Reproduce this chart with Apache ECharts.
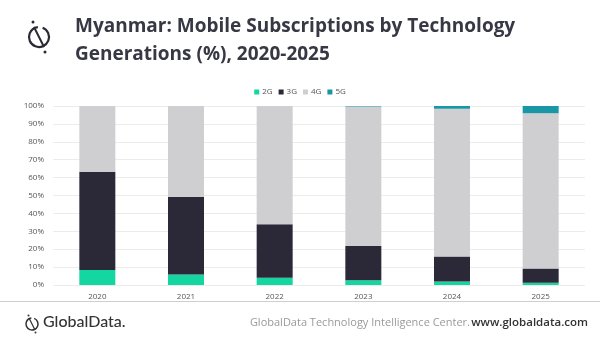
<!DOCTYPE html>
<html><head><meta charset="utf-8">
<script src="https://cdn.jsdelivr.net/npm/echarts@6/dist/echarts.min.js"></script>
<style>html,body{margin:0;padding:0;background:#fff}#c{width:600px;height:343px}</style>
</head><body><div id="c"></div>
<script>
const categories = ['2020','2021','2022','2023','2024','2025'];
const seriesNames = ['2G','3G','4G','5G'];
const g2 = [8.4, 5.8, 4.1, 2.6, 1.9, 1.3];
const g3 = [54.8, 43.4, 29.9, 19.2, 14.0, 7.9];
const g4 = [36.8, 50.8, 66.0, 77.9, 82.6, 86.7];
const g5 = [0, 0, 0, 0.3, 1.5, 4.1];
const yTicks = [0,10,20,30,40,50,60,70,80,90,100];
const colors = ['#14d6a0', '#2b2838', '#cfcfd1', '#1a97a6'];

const chart = echarts.init(document.getElementById('c'));
const dataSets = [g2, g3, g4, g5];
chart.setOption({
  animation: false,
  textStyle: { fontFamily: 'Open Sans' },
  title: {
    text: 'Myanmar: Mobile Subscriptions by Technology\nGenerations (%), 2020-2025',
    left: 70, top: 8,
    textStyle: { fontFamily: 'Open Sans', fontWeight: 'bold', fontSize: 19, lineHeight: 28, color: '#383844' }
  },
  legend: {
    data: seriesNames, top: 83, left: 'center',
    itemWidth: 5, itemHeight: 5, itemGap: 6, icon: 'rect',
    textStyle: { fontSize: 8, color: '#555', padding: [0,0,0,-2] }
  },
  grid: { left: 53, right: 15, top: 106, bottom: 58 },
  xAxis: {
    type: 'category', data: categories,
    axisLine: { show: false }, axisTick: { show: false },
    axisLabel: { fontSize: 8, color: '#555', margin: 8 }
  },
  yAxis: {
    type: 'value', min: 0, max: 100, interval: 10,
    axisLabel: { fontSize: 8, color: '#555', margin: 9, formatter: v => yTicks.includes(v) ? v + '%' : '' },
    splitLine: { lineStyle: { color: '#ececec', width: 1 } }
  },
  series: dataSets.map((d, i) => ({
    name: seriesNames[i], type: 'bar', stack: 'total', data: d,
    barWidth: 36, itemStyle: { color: colors[i] }
  })),
  graphic: [
    { type: 'arc', shape: { cx: 39, cy: 37, r: 10, startAngle: -1.2, endAngle: 4.6 }, style: { stroke: '#2a2a35', lineWidth: 2.2, fill: null } },
    { type: 'line', shape: { x1: 34, y1: 27, x2: 44, y2: 47 }, style: { stroke: '#2a2a35', lineWidth: 2 } },
    { type: 'circle', shape: { cx: 33, cy: 22, r: 1.5 }, style: { fill: '#2a2a35' } },
    { type: 'circle', shape: { cx: 45, cy: 52, r: 1.5 }, style: { fill: '#2a2a35' } },
    { type: 'line', shape: { x1: 0, y1: 301.5, x2: 600, y2: 301.5 }, style: { stroke: '#cfcfcf', lineWidth: 1 } },
    { type: 'arc', shape: { cx: 32, cy: 324, r: 6, startAngle: -1.2, endAngle: 4.6 }, style: { stroke: '#333', lineWidth: 1.5, fill: null } },
    { type: 'line', shape: { x1: 29, y1: 318, x2: 35, y2: 330 }, style: { stroke: '#333', lineWidth: 1.3 } },
    { type: 'circle', shape: { cx: 28.5, cy: 315.5, r: 1 }, style: { fill: '#333' } },
    { type: 'circle', shape: { cx: 35.5, cy: 332.5, r: 1 }, style: { fill: '#333' } },
    { type: 'text', left: 43, top: 314, style: { text: 'GlobalData.', font: '500 16px Lato', fill: '#333' } },
    { type: 'text', x: 470, y: 323, style: { text: 'GlobalData Technology Intelligence Center.', font: '11px "Open Sans"', fill: '#9a9a9a', align: 'right', verticalAlign: 'middle' } },
    { type: 'text', x: 588, y: 323, style: { text: 'www.globaldata.com', font: '600 11.5px "Open Sans"', fill: '#333', align: 'right', verticalAlign: 'middle' } }
  ]
});
</script>
</body></html>
